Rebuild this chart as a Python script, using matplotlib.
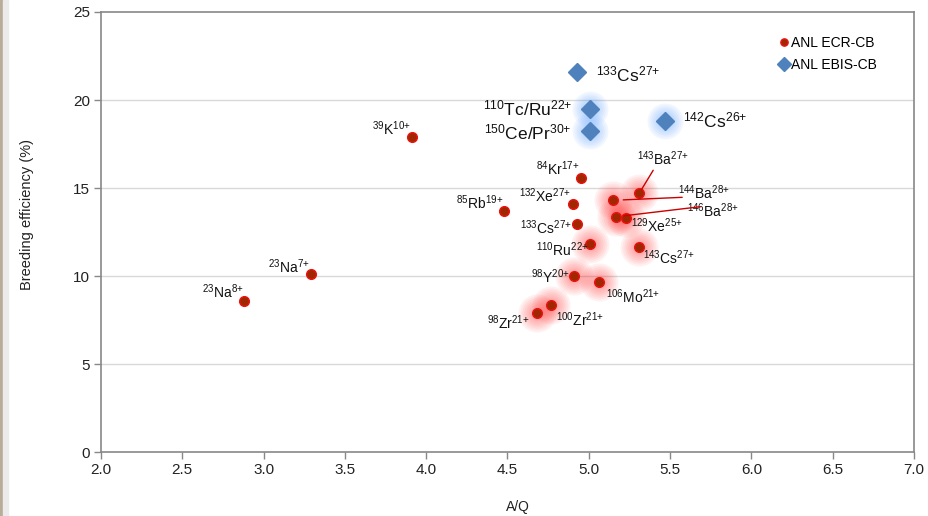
import math
import matplotlib
matplotlib.use("Agg")
import matplotlib.pyplot as plt
from matplotlib.patches import Rectangle

plt.rcParams['font.family'] = ['Liberation Sans', 'DejaVu Sans']
plt.rcParams['mathtext.fontset'] = 'custom'
plt.rcParams['mathtext.rm'] = 'Liberation Sans'
plt.rcParams['mathtext.it'] = 'Liberation Sans:italic'
plt.rcParams['mathtext.bf'] = 'Liberation Sans:bold'
plt.rcParams['mathtext.default'] = 'regular'

# ---- data ----
ecr_labels = ["$^{23}$Na$^{8{+}}$", "$^{23}$Na$^{7{+}}$", "$^{39}$K$^{10{+}}$", "$^{85}$Rb$^{19{+}}$",
              "$^{84}$Kr$^{17{+}}$", "$^{132}$Xe$^{27{+}}$", "$^{133}$Cs$^{27{+}}$", "$^{110}$Ru$^{22{+}}$",
              "$^{98}$Y$^{20{+}}$", "$^{106}$Mo$^{21{+}}$", "$^{100}$Zr$^{21{+}}$", "$^{98}$Zr$^{21{+}}$",
              "$^{143}$Ba$^{27{+}}$", "$^{144}$Ba$^{28{+}}$", "$^{146}$Ba$^{28{+}}$", "$^{129}$Xe$^{25{+}}$",
              "$^{143}$Cs$^{27{+}}$"]
ecr_aq = [2.88, 3.29, 3.91, 4.48, 4.95, 4.90, 4.93, 5.01, 4.91, 5.06, 4.77, 4.68,
          5.31, 5.15, 5.17, 5.23, 5.31]
ecr_eff = [8.58, 10.11, 17.9, 13.69, 15.57, 14.07, 12.96, 11.80, 9.99, 9.68, 8.37, 7.90,
           14.70, 14.30, 13.37, 13.31, 11.67]
ecr_glow = [False, False, False, False, False, False, False, True, True, True, True, True,
            True, True, True, True, True]

ebis_labels = ["$^{133}$Cs$^{27{+}}$", "$^{110}$Tc/Ru$^{22{+}}$", "$^{150}$Ce/Pr$^{30{+}}$",
               "$^{142}$Cs$^{26{+}}$"]
ebis_aq = [4.93, 5.01, 5.01, 5.47]
ebis_eff = [21.58, 19.47, 18.24, 18.81]
ebis_glow = [False, True, True, True]

x_ticks = [2.0, 2.5, 3.0, 3.5, 4.0, 4.5, 5.0, 5.5, 6.0, 6.5, 7.0]
y_ticks = [0, 5, 10, 15, 20, 25]

# ---- style: label offsets (pixels, text centre relative to point) ----
ecr_off = [(-21, 9), (-22, 7), (-20, 8), (-25, 8), (-23, 9), (-28, 9), (-31, -4), (-28, -5),
           (-24, -1), (35, -15), (29, -15), (-28, -10), (24, 35), (91, 8), (97, 6), (31, -8),
           (30, -11)]
ebis_off = [(51, -2), (-63, 1), (-63, -1), (50, 0)]
# leader lines: (label index, start offset px, end offset px)
leaders = [(12, (2, 4), (14, 23)), (13, (10, -1), (69, 3)), (14, (3, 7), (84, 10))]

fig = plt.figure(figsize=(9.29, 5.16), dpi=100)
ax = fig.add_axes([101/929, 1 - 452/516, 813/929, 440/516])

# thin photo-edge strip on far left
fig.patches.append(Rectangle((0, 0), 3/929, 1, transform=fig.transFigure,
                             color='#b8ad98', zorder=0))
fig.patches.append(Rectangle((3/929, 0), 5/929, 1, transform=fig.transFigure,
                             color='#ebebeb', zorder=0))

ax.set_xlim(2.0, 7.0)
ax.set_ylim(0, 25)
for y in y_ticks[1:-1]:
    ax.axhline(y, color='#d9d9d9', lw=1, zorder=0)

# glows
for x, y, g in zip(ecr_aq, ecr_eff, ecr_glow):
    if g:
        for r in range(7, 21, 2):
            ax.plot(x, y, 'o', ms=r * 1.44, color='#ff3030', alpha=0.065, mec='none', zorder=1)
for x, y, g in zip(ebis_aq, ebis_eff, ebis_glow):
    if g:
        for r in range(8, 19, 2):
            ax.plot(x, y, 'o', ms=r * 1.44, color='#5aa0ff', alpha=0.08, mec='none', zorder=1)

ax.plot(ecr_aq, ecr_eff, 'o', ms=7, mfc='#a02800', mec='#ee1111', mew=1.0, ls='none',
        zorder=3, label='ANL ECR-CB')
ax.plot(ebis_aq, ebis_eff, 'D', ms=9, color='#4f81bd', ls='none', zorder=3, label='ANL EBIS-CB')

for lab, x, y, off in zip(ecr_labels, ecr_aq, ecr_eff, ecr_off):
    ax.annotate(lab, (x, y), xytext=off, textcoords='offset pixels', ha='center', va='center',
                fontsize=10, color='#111111', zorder=4)
for lab, x, y, off in zip(ebis_labels, ebis_aq, ebis_eff, ebis_off):
    ax.annotate(lab, (x, y), xytext=off, textcoords='offset pixels', ha='center', va='center',
                fontsize=12.5, color='#111111', zorder=4)

for i, s, e in leaders:
    x, y = ecr_aq[i], ecr_eff[i]
    d = math.hypot(*s) * 72 / 100
    ax.annotate('', (x, y), xytext=e, textcoords='offset pixels',
                arrowprops=dict(arrowstyle='-', color='#cc0000', lw=1.0, shrinkA=0, shrinkB=d),
                zorder=4)

ax.set_xticks(x_ticks)
ax.set_xticklabels([f"{v:.1f}" for v in x_ticks])
ax.set_yticks(y_ticks)
ax.set_yticklabels([str(v) for v in y_ticks])
ax.tick_params(axis='both', direction='out', length=5, width=1, color='#888888',
               labelsize=11, labelcolor='#222222', pad=3)
for sp in ax.spines.values():
    sp.set_color('#888888')
    sp.set_linewidth(1.2)

ax.set_xlabel('A/Q', fontsize=10, color='#222222', va='center')
ax.xaxis.set_label_coords(0.5 + (518 - 507.5) / 813, -(507 - 452) / 440)
ax.set_ylabel('Breeding efficiency (%)', fontsize=10.5, color='#222222', va='center')
ax.yaxis.set_label_coords(-(101 - 27) / 813, (452 - 215) / 440)

leg = ax.legend(loc='upper left', frameon=False, fontsize=10, handlelength=0.6,
                handletextpad=0.2, markerscale=0.75, labelspacing=0.6, borderaxespad=0,
                bbox_to_anchor=(774/929, 1 - 30/516), bbox_transform=fig.transFigure)

fig.savefig('out.png', dpi=100)
